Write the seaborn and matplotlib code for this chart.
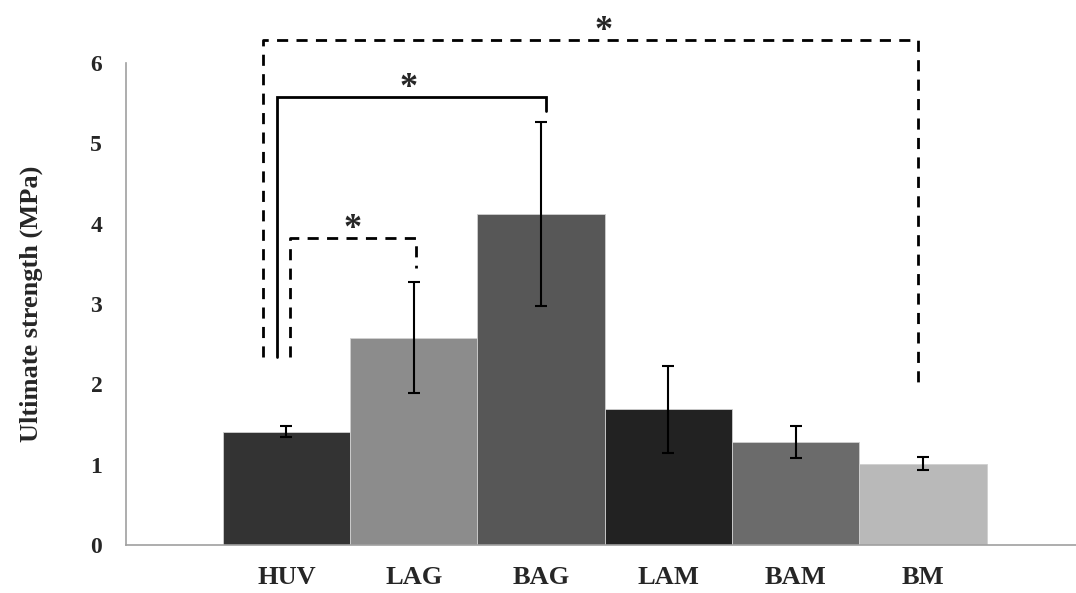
import numpy as np
import pandas as pd
import matplotlib
matplotlib.use("Agg")
import matplotlib.pyplot as plt
import seaborn as sns

# values
groups = ["HUV", "LAG", "BAG", "LAM", "BAM", "BM"]
strength = [1.41, 2.58, 4.12, 1.69, 1.28, 1.01]
strength_err = [0.065, 0.69, 1.15, 0.54, 0.20, 0.08]
bar_colors = ["#333333", "#8c8c8c", "#575757", "#222222", "#6b6b6b", "#b9b9b9"]

# significance brackets: left x, right x, top y, left end y, right end y, star x, style
brackets = [
    (-0.18, 4.96, 6.29, 2.34, 1.98, 2.49, "--"),
    (-0.075, 2.04, 5.58, 2.34, 5.40, 0.96, "-"),
    (0.03, 1.02, 3.82, 2.34, 3.45, 0.52, "--"),
]

sns.set_style("white")
plt.rcParams["font.family"] = ["Liberation Serif", "DejaVu Serif"]
plt.rcParams["font.weight"] = "bold"

df = pd.DataFrame({"group": groups, "strength": strength})

fig = plt.figure(figsize=(10.76, 5.93), dpi=100)
ax = fig.add_axes([0.117, 0.081, 0.883, 0.813])

sns.barplot(data=df, x="group", y="strength", hue="group", palette=bar_colors,
            width=1.0, edgecolor="#d0d0d0", linewidth=0.6, legend=False, ax=ax)

centers = [p.get_x() + p.get_width() / 2 for p in ax.patches]
ax.errorbar(centers, strength, yerr=strength_err, fmt="none", ecolor="black",
            elinewidth=1.5, capsize=4, capthick=1.5)

for x0, x1, ytop, yl, yr, xs, ls in brackets:
    ax.plot([x0, x0, x1, x1], [yl, ytop, ytop, yr], color="black", lw=2,
            ls=ls, dashes=(4, 3) if ls == "--" else (None, None), clip_on=False,
            solid_joinstyle="miter")
    ax.text(xs, ytop - 0.1, "*", ha="center", va="bottom",
            fontsize=26, fontweight="bold", clip_on=False)

ax.set_xlim(-1.26, 6.2)
ax.set_ylim(0, 6)
ax.set_yticks(range(7))
ax.set_xlabel("")
ax.set_ylabel("Ultimate strength (MPa)", fontsize=19, fontweight="bold", labelpad=34)
ax.tick_params(axis="y", length=7, width=1, color="#a0a0a0", labelsize=17, pad=10)
ax.tick_params(axis="x", length=0, labelsize=19, pad=15)
for lab in ax.get_xticklabels() + ax.get_yticklabels():
    lab.set_fontweight("bold")

sns.despine(ax=ax)
for s in ["left", "bottom"]:
    ax.spines[s].set_color("#a0a0a0")
    ax.spines[s].set_linewidth(1.2)

fig.savefig("out.png", dpi=100)
